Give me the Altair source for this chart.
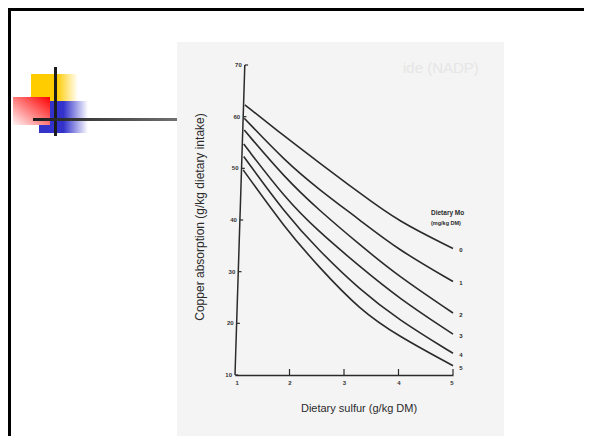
import altair as alt
import pandas as pd

# ---- data ----
mo_levels = ["0", "1", "2", "3", "4", "5"]
start_sulfur = [1.18, 1.17, 1.17, 1.16, 1.16, 1.15]
sulfur = [1.92, 2.53, 3.29, 4.0, 5.0]
cu_mo0 = [62.3, 56.1, 51.2, 45.2, 39.7, 34.5]
cu_mo1 = [59.7, 51.4, 46.0, 40.0, 34.2, 28.1]
cu_mo2 = [57.4, 48.1, 42.0, 35.2, 29.1, 22.0]
cu_mo3 = [54.7, 44.2, 37.8, 31.0, 24.9, 17.9]
cu_mo4 = [52.3, 41.3, 34.2, 26.5, 20.7, 14.2]
cu_mo5 = [49.7, 38.4, 31.0, 22.6, 17.5, 11.8]
x_ticks = [1, 2, 3, 4, 5]
y_ticks = [10, 20, 30, 40, 50, 60, 70]
# scanned y-axis line is slightly slanted: bottom / top sulfur positions
yaxis_bottom = 1.0
yaxis_top = 1.18

series = [cu_mo0, cu_mo1, cu_mo2, cu_mo3, cu_mo4, cu_mo5]
rows = []
for mo, s0, ys in zip(mo_levels, start_sulfur, series):
    for xv, yv in zip([s0] + sulfur, ys):
        rows.append({"mo": mo, "sulfur": xv, "cu": yv})
df = pd.DataFrame(rows)
ends = pd.DataFrame({"mo": mo_levels, "sulfur": [5] * 6, "cu": [s[-1] for s in series]})

def slant(v):
    return yaxis_bottom + (v - 10) / 60 * (yaxis_top - yaxis_bottom)

ydf = pd.DataFrame({"cu": y_ticks, "sulfur": [slant(v) for v in y_ticks],
                    "sulfur2": [slant(v) + 0.06 for v in y_ticks],
                    "label": [str(v) for v in y_ticks]})
xdf = pd.DataFrame({"sulfur": x_ticks[1:]})
axdf = pd.DataFrame({"sulfur": [yaxis_bottom], "sulfur2": [yaxis_top], "cu": [10], "cu2": [70]})

FONT = "Liberation Sans"
INK = "#2b2b2b"
xscale = alt.Scale(domain=[1, 5], nice=False, zero=False)
yscale = alt.Scale(domain=[10, 70], nice=False, zero=False)
xaxis = alt.Axis(values=x_ticks, title=None, ticks=False, grid=False, labelFontSize=6,
                 labelFontWeight="bold", labelColor="#333", labelFont=FONT, labelPadding=4,
                 domainColor=INK, domainWidth=1.5, format="d", zindex=2)

one = alt.Data(values=[{"a": 1}])

def box(x, x2, y, y2, fill):
    return alt.Chart(one).mark_rect(fill=fill).encode(
        x=alt.value(x), x2=alt.value(x2), y=alt.value(y), y2=alt.value(y2))

def hgrad(c0, c1, mid=0.5):
    return alt.LinearGradient(gradient="linear", x1=0, x2=1, y1=0, y2=0,
                              stops=[alt.GradientStop(offset=0, color=c0),
                                     alt.GradientStop(offset=mid, color=c0),
                                     alt.GradientStop(offset=1, color=c1)])

def label(txt, x, y, size, **kw):
    return alt.Chart(one).mark_text(text=txt, fontSize=size, font=FONT, **kw).encode(
        x=alt.value(x), y=alt.value(y))

# slide decorations (pixel positions relative to plot area)
scan_bg = box(-58, 269, -23, 371, "#f4f4f4")
top_border = box(-227, 349, -57, -54, "#000000")
left_border = box(-227, -224, -57, 371, "#000000")
yellow = box(-204, -157, 9, 37, hgrad("#FFCC00", "#FFFFFF", 0.55))
blue = box(-196, -147, 36, 68, hgrad("#3333CC", "#FFFFFF", 0.5))
red = box(-222, -185, 32, 60, alt.LinearGradient(
    gradient="linear", x1=1, y1=0, x2=0, y2=1,
    stops=[alt.GradientStop(offset=0, color="#FF0000"),
           alt.GradientStop(offset=1, color="#FFF4F4")]))
vline = box(-181, -178, 2, 71, "#1c1c1c")
hline = box(-202, -58, 53, 56, alt.LinearGradient(
    gradient="linear", x1=0, x2=1, y1=0, y2=0,
    stops=[alt.GradientStop(offset=0, color="#1c1c1c"),
           alt.GradientStop(offset=1, color="#707070")]))
ghost = label("ide (NADP)", 168, 3, 15, align="left", baseline="middle", color="#e6e6e6")

# chart marks
lines = alt.Chart(df).mark_line(color=INK, strokeWidth=1.6, interpolate="basis").encode(
    x=alt.X("sulfur:Q", scale=xscale, axis=xaxis),
    y=alt.Y("cu:Q", scale=yscale, axis=None),
    detail="mo:N")
end_labels = alt.Chart(ends).mark_text(fontSize=6, fontWeight="bold", font=FONT, color=INK,
                                       dx=8, dy=2).encode(
    x=alt.X("sulfur:Q", scale=xscale, axis=xaxis),
    y=alt.Y("cu:Q", scale=yscale, axis=None),
    text="mo:N")
y_domain = alt.Chart(axdf).mark_rule(color=INK, strokeWidth=1.5).encode(
    x=alt.X("sulfur:Q", scale=xscale, axis=xaxis), x2="sulfur2:Q",
    y=alt.Y("cu:Q", scale=yscale, axis=None), y2="cu2:Q")
y_ticks_m = alt.Chart(ydf).mark_rule(color=INK, strokeWidth=1.2).encode(
    x=alt.X("sulfur:Q", scale=xscale, axis=xaxis), x2="sulfur2:Q",
    y=alt.Y("cu:Q", scale=yscale, axis=None))
y_labels = alt.Chart(ydf).mark_text(fontSize=6, fontWeight="bold", font=FONT, color="#333",
                                    align="right", baseline="middle", dx=-3).encode(
    x=alt.X("sulfur:Q", scale=xscale, axis=xaxis),
    y=alt.Y("cu:Q", scale=yscale, axis=None),
    text="label:N")
x_ticks_m = alt.Chart(xdf).mark_rule(color=INK, strokeWidth=1.2).encode(
    x=alt.X("sulfur:Q", scale=xscale, axis=xaxis),
    y=alt.value(310), y2=alt.value(304))

y_title = label("Copper absorption (g/kg dietary intake)", -35, 152, 12, angle=270,
                align="center", baseline="middle", color=INK)
x_title = label("Dietary sulfur (g/kg DM)", 124, 344, 11, align="center",
                baseline="middle", color=INK)
leg1 = label("Dietary Mo", 196, 148, 6.5, align="left", baseline="middle",
             fontWeight="bold", color=INK)
leg2 = label("(mg/kg DM)", 196, 158, 5.5, align="left", baseline="middle",
             fontWeight="bold", color=INK)

chart = alt.layer(
    scan_bg, top_border, left_border, yellow, blue, red, vline, hline, ghost,
    lines, end_labels, y_domain, y_ticks_m, y_labels, x_ticks_m,
    y_title, x_title, leg1, leg2,
).properties(
    width=218, height=310,
    padding={"left": 227, "top": 57, "right": 131, "bottom": 61},
    autosize=alt.AutoSizeParams(type="none"),
    background="white",
).configure_view(stroke=None)

chart.save("out.html", embed_options={"renderer": "svg", "actions": False})
